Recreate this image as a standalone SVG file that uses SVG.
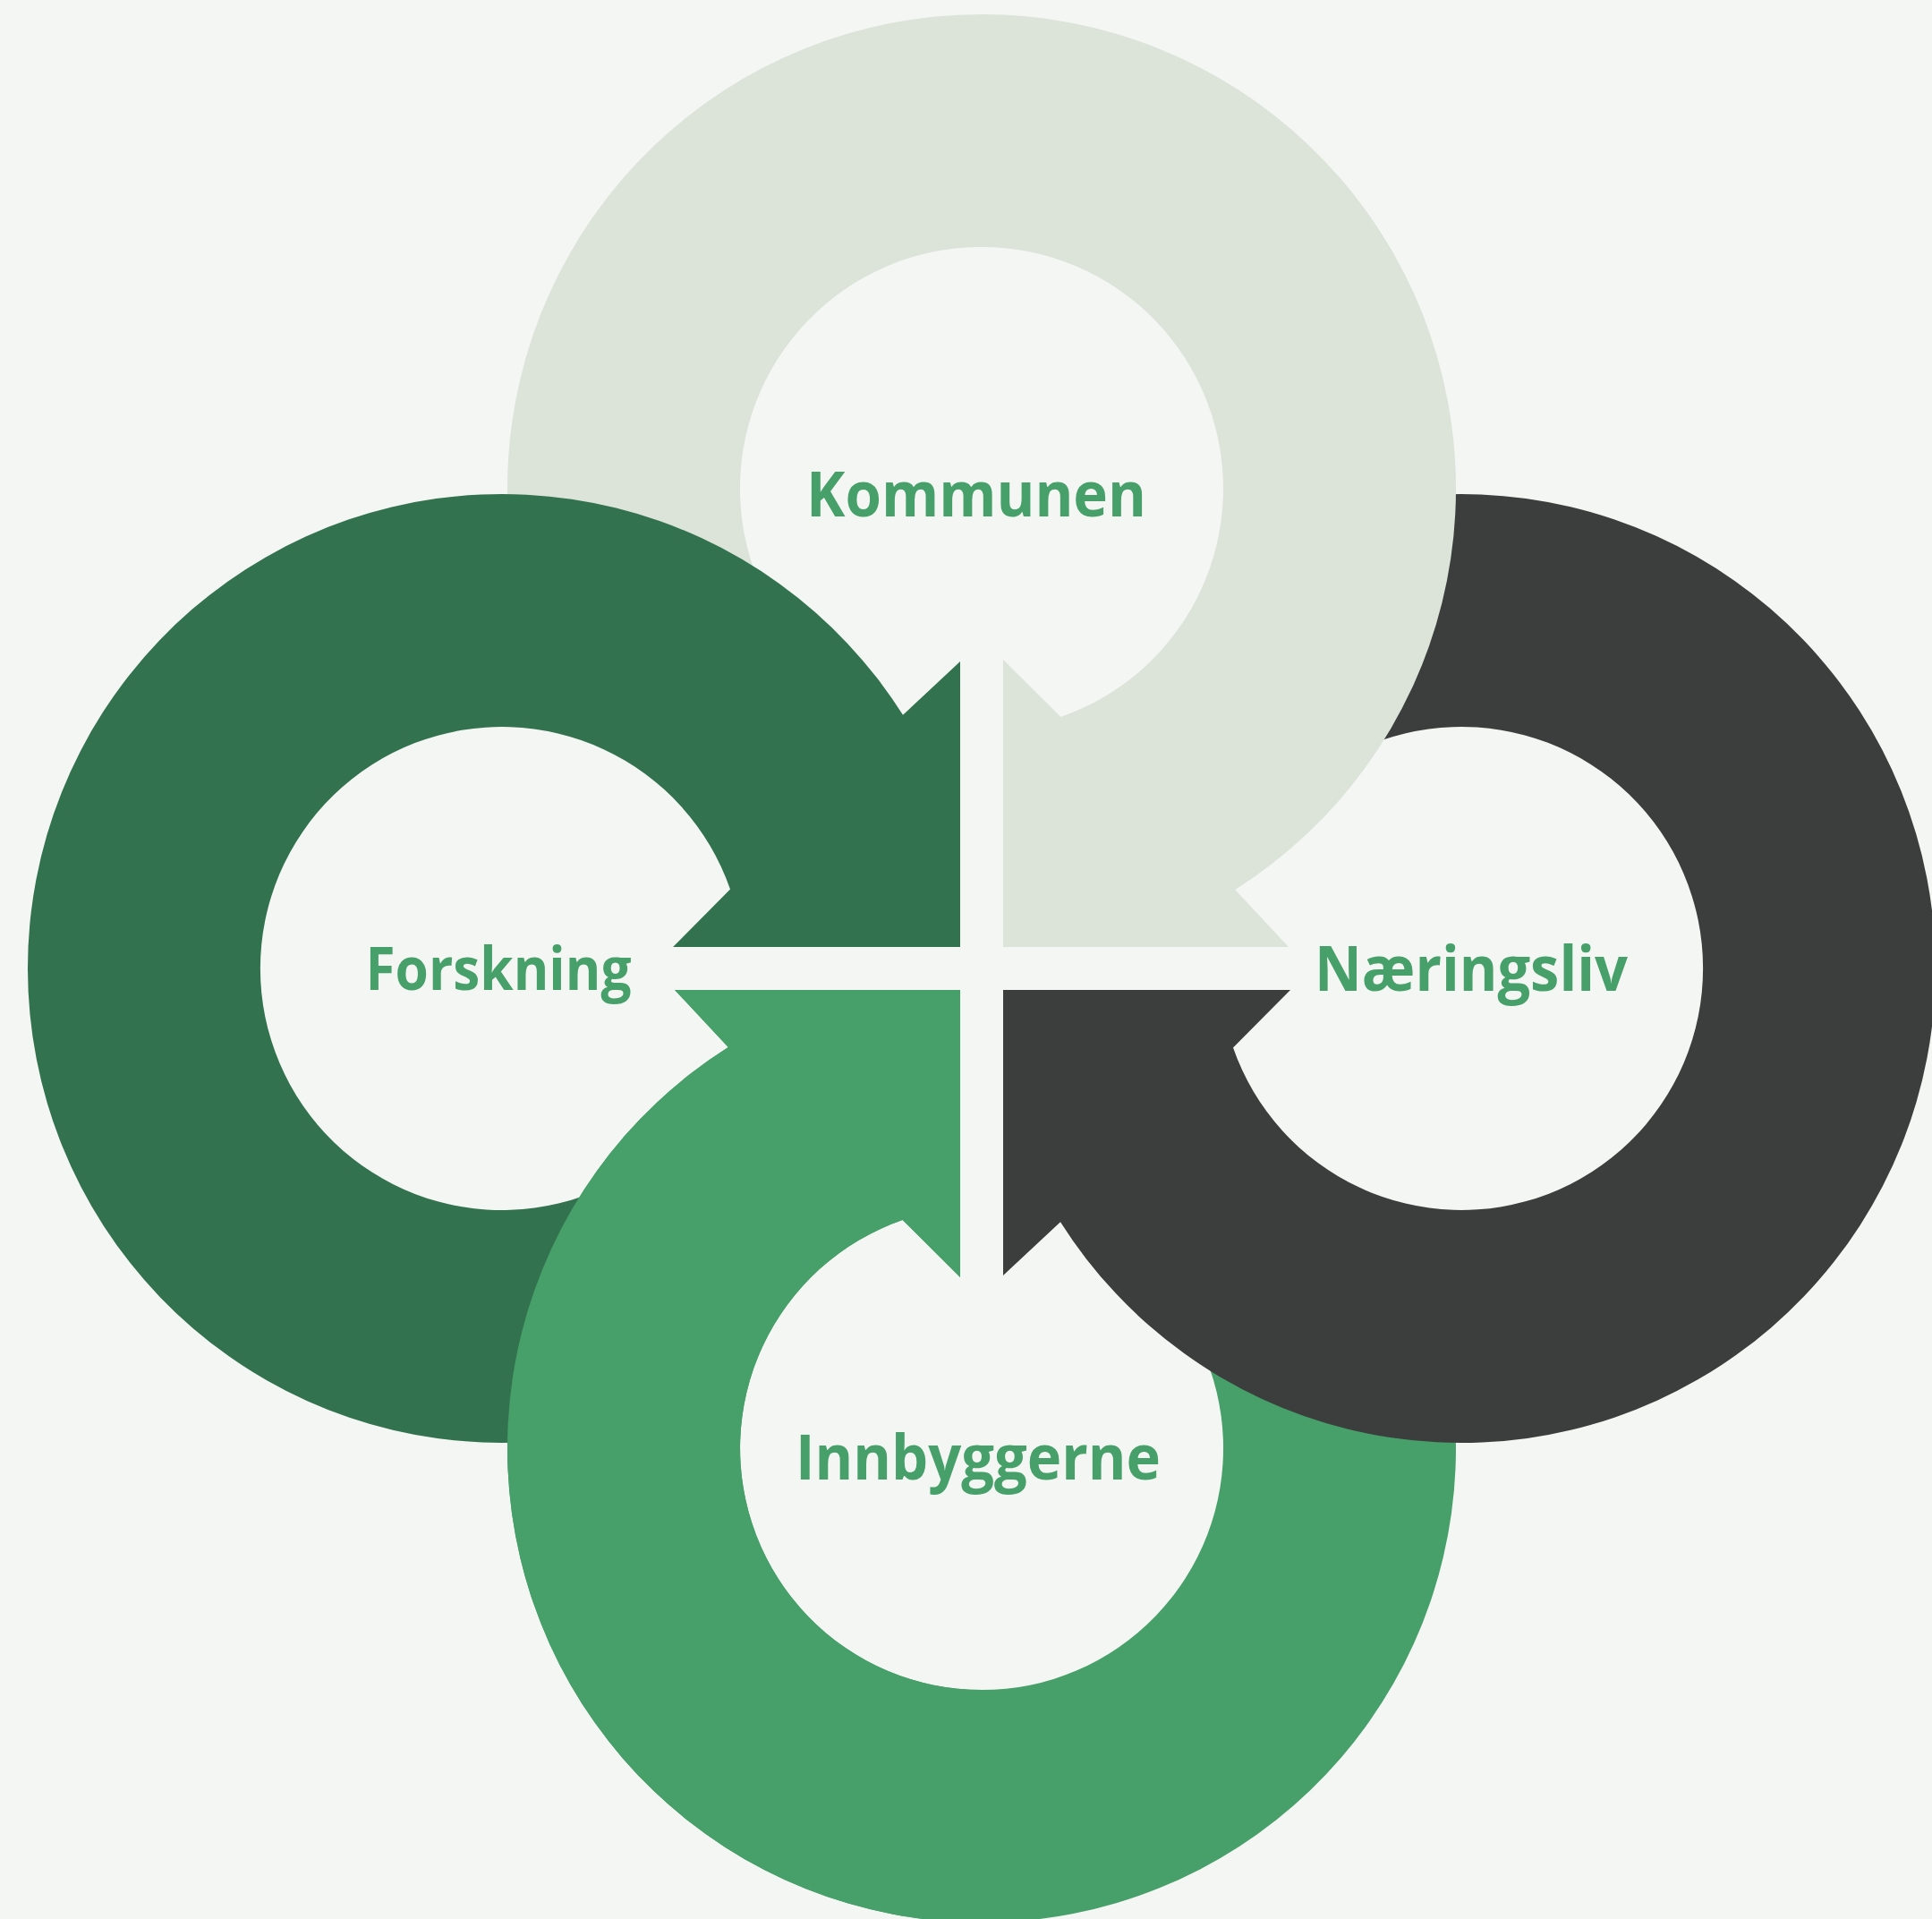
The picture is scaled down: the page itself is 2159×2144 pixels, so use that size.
<svg xmlns="http://www.w3.org/2000/svg" xmlns:xlink="http://www.w3.org/1999/xlink" width="2159" height="2144" viewBox="0 0 2159 2144">
  <style>
    .bg { fill: #F4F6F3; }
    .c-kommunen { fill: #DCE4DA; }
    .c-forskning { fill: #33724F; }
    .c-innbyggerne { fill: #479F69; }
    .c-naeringsliv { fill: #3C3E3D; }
    .label { font-family: "Open Sans", "Liberation Sans", sans-serif; font-weight: 700; fill: #47A06A; text-anchor: middle; }
  </style>
  <defs>
    <!-- circular arrow, drawn for the top ring; others are rotations about the cross centre (1097,1082) -->
    <path id="ringArrow" d="M 1121 1058 L 1440 1058 L 1380.2 994 A 530 530 0 1 0 616.66 769.98 L 852.3 660.1 A 270 270 0 1 1 1185.4 801 L 1121 737 Z"/>
    <clipPath id="clipBottomLeft">
      <rect x="0" y="1082" width="1097" height="1062"/>
    </clipPath>
  </defs>

  <rect class="bg" x="0" y="0" width="2159" height="2144"/>

  <g id="node-innbyggerne">
    <use xlink:href="#ringArrow" class="c-innbyggerne" transform="rotate(-180 1097 1082)"/>
    <text class="label" x="1093" y="1653" font-size="69" textLength="408" lengthAdjust="spacingAndGlyphs">Innbyggerne</text>
  </g>

  <g id="node-naeringsliv">
    <use xlink:href="#ringArrow" class="c-naeringsliv" transform="rotate(90 1097 1082)"/>
    <text class="label" x="1644" y="1107" font-size="69" textLength="350" lengthAdjust="spacingAndGlyphs">Næringsliv</text>
  </g>

  <g id="node-kommunen">
    <use xlink:href="#ringArrow" class="c-kommunen"/>
    <text class="label" x="1091" y="577" font-size="70" textLength="380" lengthAdjust="spacingAndGlyphs">Kommunen</text>
  </g>

  <g id="node-forskning">
    <use xlink:href="#ringArrow" class="c-forskning" transform="rotate(-90 1097 1082)"/>
    <text class="label" x="557" y="1106" font-size="66" textLength="297" lengthAdjust="spacingAndGlyphs">Forskning</text>
  </g>

  <g id="node-innbyggerne-overlap" clip-path="url(#clipBottomLeft)">
    <use xlink:href="#ringArrow" class="c-innbyggerne" transform="rotate(-180 1097 1082)"/>
  </g>
</svg>
